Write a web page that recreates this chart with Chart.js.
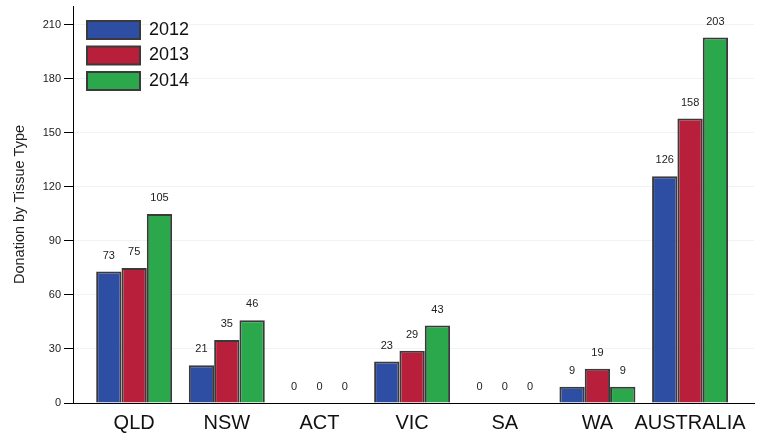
<!DOCTYPE html>
<html>
<head>
<meta charset="utf-8">
<script src="https://cdn.jsdelivr.net/npm/chart.js@4/dist/chart.umd.min.js"></script>
<style>
  html, body { margin: 0; padding: 0; background: #fff; }
  #wrap { width: 761px; height: 434px; }
</style>
</head>
<body>
<div id="wrap"><canvas id="donationChart" width="761" height="434"></canvas></div>
<script>
// values
const regions = ['QLD', 'NSW', 'ACT', 'VIC', 'SA', 'WA', 'AUSTRALIA'];
const years = ['2012', '2013', '2014'];
const donations2012 = [73, 21, 0, 23, 0, 9, 126];
const donations2013 = [75, 35, 0, 29, 0, 19, 158];
const donations2014 = [105, 46, 0, 43, 0, 9, 203];
const yTicks = [0, 30, 60, 90, 120, 150, 180, 210];

const seriesColors = ['#2e4ea3', '#b81f3a', '#2aa84b'];
const seriesValues = [donations2012, donations2013, donations2014];

// numbers above each bar
const valueLabels = {
    id: 'valueLabels',
    afterDatasetsDraw(chart) {
        const ctx = chart.ctx;
        ctx.save();
        ctx.font = '11px "Liberation Sans", Arial, sans-serif';
        ctx.fillStyle = '#222';
        ctx.textAlign = 'center';
        ctx.textBaseline = 'middle';
        chart.data.datasets.forEach((ds, i) => {
            chart.getDatasetMeta(i).data.forEach((bar, j) => {
                ctx.fillText(String(ds.data[j].y), bar.x, bar.y - 16);
            });
        });
        ctx.restore();
    }
};

// nudge the legend a little into the plot, like the original
const legendNudge = {
    id: 'legendNudge',
    afterLayout(chart) {
        if (chart.legend) {
            chart.legend.left += 6.5;
            chart.legend.top += 13.5;
        }
    }
};

const datasets = years.map((year, i) => ({
    label: year,
    data: seriesValues[i].map((v, j) => ({ x: j, y: v })),
    backgroundColor: seriesColors[i],
    borderColor: '#3a3a3a',
    borderWidth: c => (c.raw && c.raw.y === 0 ? 0 : 2),
    borderSkipped: 'bottom',
    categoryPercentage: 0.82,
    barPercentage: 1.0
}));

new Chart(document.getElementById('donationChart'), {
    type: 'bar',
    data: { datasets },
    plugins: [valueLabels, legendNudge],
    options: {
        responsive: false,
        animation: false,
        layout: { padding: { top: 6, right: 7, left: 0, bottom: 0 } },
        plugins: {
            tooltip: { enabled: false },
            legend: {
                position: 'chartArea',
                align: 'start',
                labels: {
                    boxWidth: 53,
                    boxHeight: 18,
                    padding: 7.5,
                    color: '#111',
                    font: { family: '"Liberation Sans", Arial, sans-serif', size: 18 }
                }
            }
        },
        scales: {
            x: {
                type: 'linear',
                offset: false,
                min: -0.66,
                max: 6.69,
                afterBuildTicks: axis => { axis.ticks = regions.map((_, i) => ({ value: i })); },
                afterFit: axis => { axis.height = 31; },
                grid: { display: false, drawTicks: false },
                border: { color: '#000', width: 1 },
                ticks: {
                    padding: 8,
                    autoSkip: false,
                    maxRotation: 0,
                    color: '#111',
                    font: { family: '"Liberation Sans", Arial, sans-serif', size: 20 },
                    callback: v => regions[v]
                }
            },
            y: {
                min: 0,
                max: 220.5,
                afterBuildTicks: axis => { axis.ticks = yTicks.map(v => ({ value: v })); },
                afterFit: axis => { axis.width = 73; axis.paddingTop = 0; },
                grid: { color: '#eef3f3', tickColor: '#000', tickLength: 9 },
                border: { color: '#000', width: 1 },
                ticks: {
                    padding: 3,
                    color: '#222',
                    font: { family: '"Liberation Sans", Arial, sans-serif', size: 11 }
                },
                title: {
                    display: true,
                    text: 'Donation by Tissue Type',
                    color: '#222',
                    padding: { top: 11, bottom: 0 },
                    font: { family: '"Liberation Sans", Arial, sans-serif', size: 14.5 }
                }
            }
        }
    }
});
</script>
</body>
</html>
